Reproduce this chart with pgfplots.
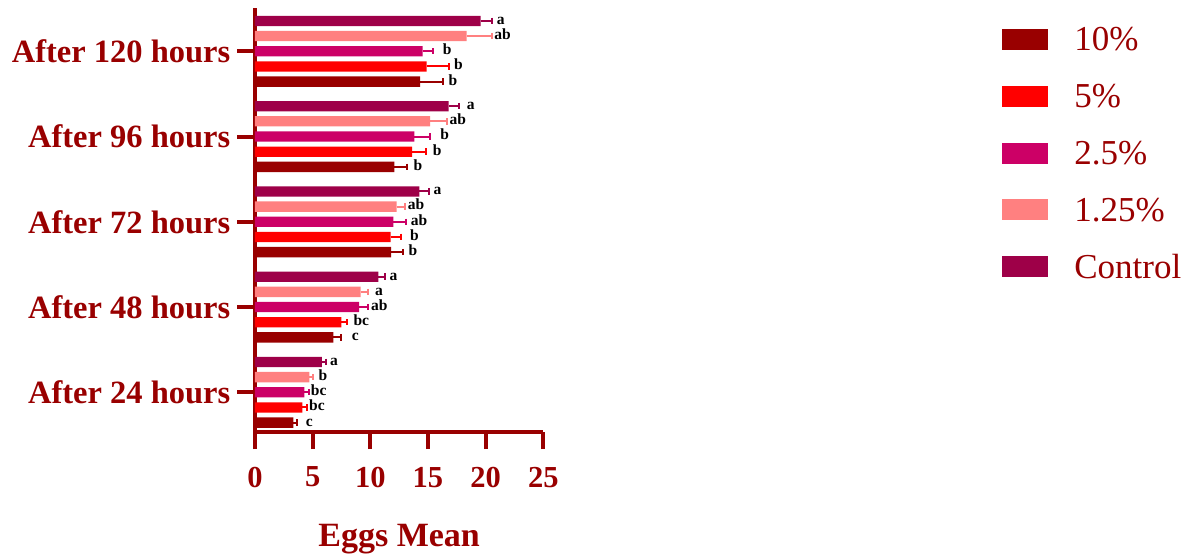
\documentclass[border=0pt]{standalone}
\usepackage{fontspec}
\setmainfont{Liberation Serif}
\usepackage{pgfplots}
\pgfplotsset{compat=1.18}
\definecolor{axred}{HTML}{990000}
\definecolor{cten}{HTML}{990000}
\definecolor{cfive}{HTML}{FF0000}
\definecolor{ctwo}{HTML}{CC0066}
\definecolor{cone}{HTML}{FF8080}
\definecolor{cctrl}{HTML}{9E0048}
\pgfplotsset{
  mybar/.style={
    xbar, bar width=0.121, bar shift=0pt, fill=#1, draw=none,
    legend image code/.code={\fill[##1] (0pt,1pt) rectangle (46pt,22pt);},
    error bars/.cd, x dir=plus, x explicit,
    error bar style={#1, line width=2pt},
    error mark=|,
    error mark options={#1, mark size=3.2pt, line width=2pt}
  },
  letters/.style={
    draw=none, forget plot, nodes near coords, point meta=explicit symbolic,
    nodes near coords style={anchor=base west, inner sep=0pt, yshift=-3.4pt,
      font=\fontsize{15.5}{18}\selectfont\bfseries, text=black}
  }
}
\begin{document}
\begin{tikzpicture}
\begin{axis}[
  scale only axis, width=288.3pt, height=423.2pt,
  xmin=0, xmax=25, ymin=-0.46, ymax=4.504,
  axis x line*=bottom, axis y line*=left,
  axis line style={axred, line width=4pt},
  xtick={0,5,...,25}, ytick={0,1,2,3,4},
  yticklabels={After 24 hours, After 48 hours, After 72 hours, After 96 hours, After 120 hours},
  tick align=outside, major tick length=17.5pt,
  tick style={axred, line width=4pt},
  /pgf/number format/assume math mode=true,
  x tick label style={font=\fontsize{30.5}{36}\selectfont\bfseries, text=axred, inner sep=0pt, anchor=north, yshift=-17.7pt},
  y tick label style={font=\fontsize{32.5}{38}\selectfont\bfseries, text=axred, inner sep=0pt, anchor=east, xshift=-7pt},
  xlabel={Eggs Mean},
  xlabel style={font=\fontsize{34}{40}\selectfont\bfseries, text=axred, at={(axis description cs:0.5,0)}, anchor=base, yshift=-114.5pt, inner sep=0pt},
  clip=false,
  legend style={draw=none, fill=none, inner sep=0pt, outer sep=0pt,
    at={(axis description cs:2.592,0.9565)}, anchor=north west,
    row sep=32.9pt, column sep=26pt,
    font=\fontsize{35}{42}\selectfont, text=axred,
    nodes={inner sep=0pt, text height=24pt, text depth=0pt, anchor=base west}},
]
\addplot[mybar=cten] coordinates {
  (3.32,-0.356) +- (0.35,0)
  (6.79,0.644) +- (0.64,0)
  (11.80,1.644) +- (1.07,0)
  (12.08,2.644) +- (1.07,0)
  (14.31,3.644) +- (1.97,0)
};
\addlegendentry{10\%}
\addplot[mybar=cfive] coordinates {
  (4.10,-0.178) +- (0.38,0)
  (7.49,0.822) +- (0.52,0)
  (11.77,1.822) +- (0.87,0)
  (13.62,2.822) +- (1.18,0)
  (14.89,3.822) +- (1.94,0)
};
\addlegendentry{5\%}
\addplot[mybar=ctwo] coordinates {
  (4.28,0) +- (0.43,0)
  (9.02,1) +- (0.75,0)
  (12.00,2) +- (1.07,0)
  (13.82,3) +- (1.36,0)
  (14.54,4) +- (0.93,0)
};
\addlegendentry{2.5\%}
\addplot[mybar=cone] coordinates {
  (4.71,0.178) +- (0.35,0)
  (9.17,1.178) +- (0.66,0)
  (12.29,2.178) +- (0.72,0)
  (15.18,3.178) +- (1.44,0)
  (18.36,4.178) +- (2.22,0)
};
\addlegendentry{1.25\%}
\addplot[mybar=cctrl] coordinates {
  (5.81,0.356) +- (0.35,0)
  (10.70,1.356) +- (0.58,0)
  (14.25,2.356) +- (0.84,0)
  (16.80,3.356) +- (0.92,0)
  (19.57,4.356) +- (1.01,0)
};
\addlegendentry{Control}
\addplot[letters] coordinates {
  (4.39,-0.356) [c] (8.38,0.644) [c] (13.30,1.644) [b] (13.73,2.644) [b] (16.77,3.644) [b]
  (4.68,-0.178) [bc] (8.53,0.822) [bc] (13.44,1.822) [b] (15.41,2.822) [b] (17.26,3.822) [b]
  (4.83,0) [bc] (10.06,1) [ab] (13.50,2) [ab] (16.05,3) [b] (16.28,4) [b]
  (5.49,0.178) [b] (10.41,1.178) [a] (13.24,2.178) [ab] (16.85,3.178) [ab] (20.73,4.178) [ab]
  (6.50,0.356) [a] (11.65,1.356) [a] (15.47,2.356) [a] (18.36,3.356) [a] (20.96,4.356) [a]
};
\end{axis}
\pgfresetboundingbox
\path[use as bounding box] (-255pt,-124.5pt) rectangle (935pt,431.5pt);
\end{tikzpicture}
\end{document}
